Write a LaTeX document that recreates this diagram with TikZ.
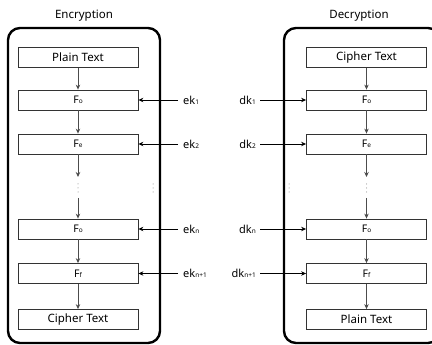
\documentclass[tikz,border=0pt]{standalone}
\usepackage{fontspec}
\setmainfont{Noto Sans}
\usetikzlibrary{arrows.meta}
\tikzset{
  panel/.style={draw=black, line width=2.4pt, rounded corners=12pt},
  fbox/.style={draw=black!80, line width=0.8pt, minimum width=120pt, minimum height=20pt, inner sep=0pt, font=\fontsize{10.5}{12}\selectfont},
  tbox/.style={fbox, font=\fontsize{11.5}{13}\selectfont},
  flow/.style={draw=black!70, line width=0.8pt, -{Stealth[length=5pt,width=4.5pt]}},
  keyarrow/.style={draw=black, line width=0.8pt, -{Stealth[length=5pt,width=4.5pt]}},
  keylab/.style={inner sep=0pt, font=\fontsize{11}{13}\selectfont},
  title/.style={inner sep=0pt, font=\fontsize{11.5}{13}\selectfont},
}
\newcommand{\smallsub}[1]{{\fontsize{6.5}{7}\selectfont #1}}
\newcommand{\vdotsat}[2]{%
  \fill[black!55] (#1,#2-4) circle (0.5pt) (#1,#2) circle (0.5pt) (#1,#2+4) circle (0.5pt);}
\begin{document}
\begin{tikzpicture}[x=1pt,y=-1pt]
\useasboundingbox (0,0) rectangle (432,345);
\begin{scope}
\clip (0,0) rectangle (432,345);
% panels
\draw[panel] (8,28) rectangle (160,343);
\draw[panel] (284,28) rectangle (440,343);
\end{scope}
\node[title] (tenc) at (84,16) {Encryption};
\node[title] (tdec) at (359,16) {Decryption};

% encryption column
\node[tbox] (ep) at (78,57.5) {Plain Text};
\node[fbox] (e1) at (78,100) {F\smallsub{o}};
\node[fbox] (e2) at (78,144) {F\smallsub{e}};
\node[fbox] (e3) at (78,229) {F\smallsub{o}};
\node[fbox] (e4) at (78,273.5) {F\smallsub{f}};
\node[tbox] (ec) at (78,319.5) {Cipher Text};
\coordinate (ea) at (78,177);
\coordinate (eb) at (78,198);
\draw[flow] (ep) -- (e1);
\draw[flow] (e1) -- (e2);
\draw[flow] (e2) -- (ea);
\draw[flow] (eb) -- (e3);
\draw[flow] (e3) -- (e4);
\draw[flow] (e4) -- (ec);
\vdotsat{78}{188}
\vdotsat{153}{188}

% decryption column
\node[tbox] (dc) at (366.5,57.5) {Cipher Text};
\node[fbox] (d1) at (366.5,100) {F\smallsub{o}};
\node[fbox] (d2) at (366.5,144) {F\smallsub{e}};
\node[fbox] (d3) at (366.5,229) {F\smallsub{o}};
\node[fbox] (d4) at (366.5,273.5) {F\smallsub{f}};
\node[tbox] (dp) at (366.5,319.5) {Plain Text};
\coordinate (da) at (366.5,177);
\coordinate (db) at (366.5,198);
\draw[flow] (dc) -- (d1);
\draw[flow] (d1) -- (d2);
\draw[flow] (d2) -- (da);
\draw[flow] (db) -- (d3);
\draw[flow] (d3) -- (d4);
\draw[flow] (d4) -- (dp);
\vdotsat{366.5}{188}
\vdotsat{289}{188}

% encryption keys
\node[keylab, anchor=west] (k1) at (183,100) {ek\smallsub{1}};
\node[keylab, anchor=west] (k2) at (183,144) {ek\smallsub{2}};
\node[keylab, anchor=west] (k3) at (183,229) {ek\smallsub{n}};
\node[keylab, anchor=west] (k4) at (183,273.5) {ek\smallsub{n+1}};
\draw[keyarrow] (k1.west) ++(-5,0) -- (e1.east);
\draw[keyarrow] (k2.west) ++(-5,0) -- (e2.east);
\draw[keyarrow] (k3.west) ++(-5,0) -- (e3.east);
\draw[keyarrow] (k4.west) ++(-5,0) -- (e4.east);

% decryption keys
\node[keylab, anchor=east] (m1) at (256,100) {dk\smallsub{1}};
\node[keylab, anchor=east] (m2) at (256,144) {dk\smallsub{2}};
\node[keylab, anchor=east] (m3) at (256,229) {dk\smallsub{n}};
\node[keylab, anchor=east] (m4) at (256,273.5) {dk\smallsub{n+1}};
\draw[keyarrow] (m1.east) ++(4,0) -- (d1.west);
\draw[keyarrow] (m2.east) ++(4,0) -- (d2.west);
\draw[keyarrow] (m3.east) ++(4,0) -- (d3.west);
\draw[keyarrow] (m4.east) ++(4,0) -- (d4.west);
\end{tikzpicture}
\end{document}
